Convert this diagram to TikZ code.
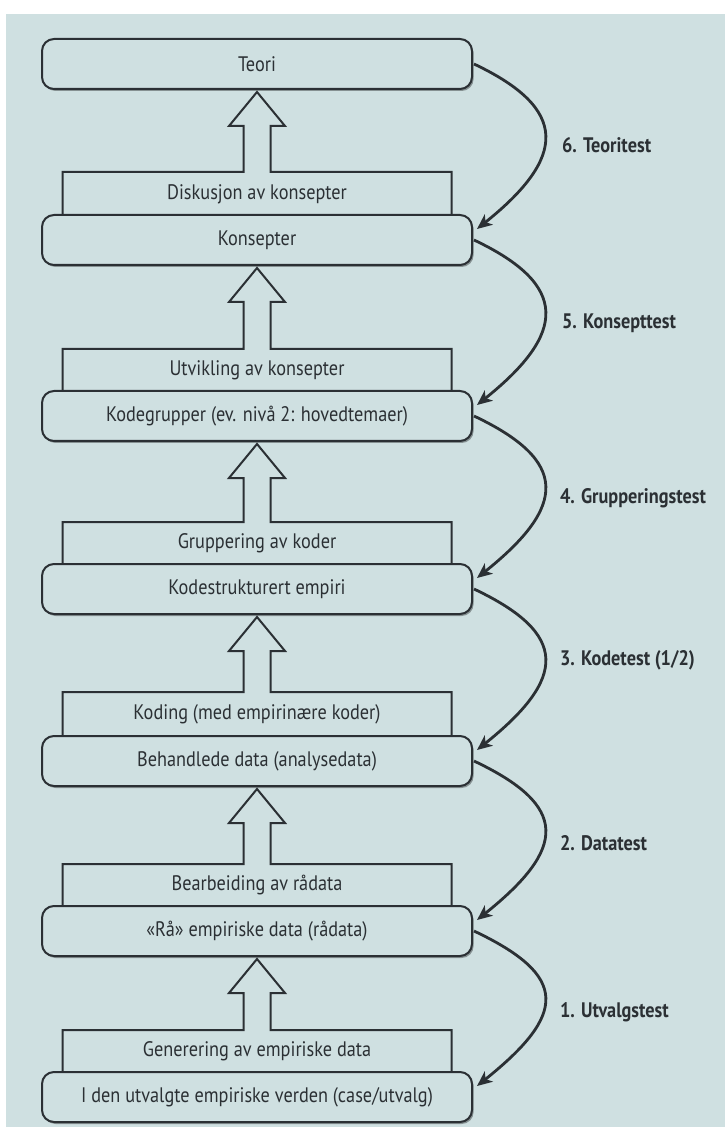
\documentclass[tikz,border=0pt]{standalone}
\usepackage{fontspec}
\setmainfont{PT Sans}[FakeStretch=0.87]
\usetikzlibrary{arrows.meta,calc,shadows}
\definecolor{paper}{HTML}{CFE0E1}
\definecolor{ink}{HTML}{2B3034}
\pgfdeclarelayer{back}\pgfdeclarelayer{mid}\pgfsetlayers{back,mid,main}
\begin{document}
\begin{tikzpicture}[x=0.5pt,y=-0.5pt,
 txt/.style={font=\fontsize{10.5}{12}\selectfont, text=ink},
 box/.style={txt, draw=ink, line width=1pt, rounded corners=6pt, fill=paper,
   minimum width=215pt, minimum height=25pt, inner sep=0pt, outer sep=0pt,
   drop shadow={shadow xshift=0.8pt, shadow yshift=-1pt, opacity=0.35, fill=black}},
 stepbox/.style={txt, minimum width=194.5pt, inner sep=0pt, outer sep=0pt},
 outl/.style={draw=ink, line width=1pt, fill=paper, line join=miter},
 testarrow/.style={draw=ink, line width=1.4pt, -{Stealth[length=7.5pt,width=6.5pt,inset=2pt]}},
 lbl/.style={anchor=west, font=\bfseries\fontsize{10.5}{12}\selectfont, text=ink}]
\useasboundingbox (0,0) rectangle (725,1127);
\begin{pgfonlayer}{back}
\fill[white] (0,0) rectangle (725,1127);
\fill[paper] (6,14) rectangle (725,1127);
\end{pgfonlayer}

% main boxes
\node[box] (teori) at (257,64) {Teori};
\node[box] (konsepter) at (257,240) {Konsepter};
\node[box] (kodegrupper) at (257,416) {Kodegrupper (ev. nivå 2: hovedtemaer)};
\node[box] (kodestrukturert) at (257,589) {Kodestrukturert empiri};
\node[box] (behandlede) at (257,761) {Behandlede data (analysedata)};
\node[box] (raa) at (257,931) {«Rå» empiriske data (rådata)};
\node[box] (iden) at (257,1097) {I den utvalgte empiriske verden (case/utvalg)};

% step rectangles
\node[stepbox, minimum height=22pt] (diskusjon) at (257,194) {Diskusjon av konsepter};
\node[stepbox, minimum height=21pt] (utvikling) at (257,370) {Utvikling av konsepter};
\node[stepbox, minimum height=21pt] (gruppering) at (257,543) {Gruppering av koder};
\node[stepbox, minimum height=22pt] (koding) at (257,714) {Koding (med empirinære koder)};
\node[stepbox, minimum height=21pt] (bearbeiding) at (257,885) {Bearbeiding av rådata};
\node[stepbox, minimum height=21pt] (generering) at (257,1051) {Generering av empiriske data};

\begin{pgfonlayer}{mid}
\foreach \r/\u in {diskusjon/teori, utvikling/konsepter, gruppering/kodegrupper,
                   koding/kodestrukturert, bearbeiding/behandlede, generering/raa}{
  \draw[outl] (\r.south west) -- (\r.north west)
    -- ($(\r.north)+(-13.5,0)$) -- ($(\u.south)+(-13.5,37)$)
    -- ($(\u.south)+(-28,37)$) -- ($(\u.south)+(0,3)$)
    -- ($(\u.south)+(28,37)$) -- ($(\u.south)+(13.5,37)$)
    -- ($(\r.north)+(13.5,0)$) -- (\r.north east) -- (\r.south east);
}
\end{pgfonlayer}

% test arrows
\foreach \a/\b in {teori/konsepter, konsepter/kodegrupper, kodegrupper/kodestrukturert,
                   kodestrukturert/behandlede, behandlede/raa, raa/iden}{
  \draw[testarrow] ($(\a.east)+(2,0)$) .. controls +(95,45) and +(90,-72) .. ($(\b.east)+(5,-11)$);
}

\node[lbl] (t6) at (555,145) {6. Teoritest};
\node[lbl] (t5) at (555,323) {5. Konsepttest};
\node[lbl] (t4) at (553,498) {4. Grupperingstest};
\node[lbl] (t3) at (553,660) {3. Kodetest (1/2)};
\node[lbl] (t2) at (553,843) {2. Datatest};
\node[lbl] (t1) at (553,1012) {1. Utvalgstest};
\end{tikzpicture}
\end{document}
